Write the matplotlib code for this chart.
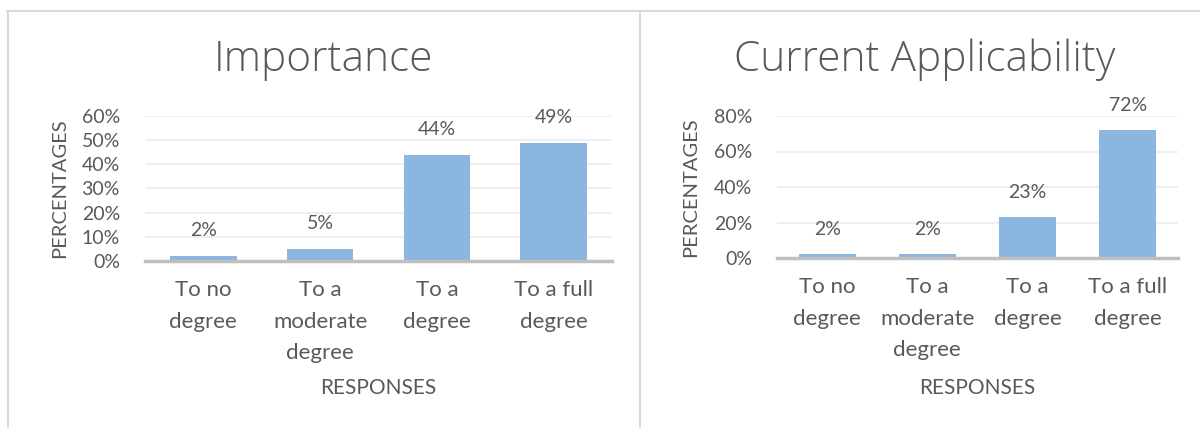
import matplotlib
matplotlib.use("Agg")
import matplotlib.pyplot as plt
from matplotlib.lines import Line2D
from matplotlib.ticker import PercentFormatter

plt.rcParams['font.family'] = ['Lato', 'DejaVu Sans']

categories = ["To no\ndegree", "To a\nmoderate\ndegree", "To a\ndegree", "To a full\ndegree"]
importance = [2, 5, 44, 49]
applicability = [2, 2, 23, 72]
importance_labels = ["2%", "5%", "44%", "49%"]
applicability_labels = ["2%", "2%", "23%", "72%"]
titles = ["Importance", "Current Applicability"]

W, H = 1200, 428
fig = plt.figure(figsize=(12, 4.28), dpi=100)

TXT = "#595959"
BAR = "#8BB6E0"
GRID = "#EFEFEF"
BASE = "#BFBFBF"
BORDER = "#D9D9D9"

def px(x0, y0, x1, y1):
    return [x0 / W, 1 - y1 / H, (x1 - x0) / W, (y1 - y0) / H]

panels = [
    dict(rect=px(145, 116, 612, 261), vals=importance, labs=importance_labels,
         ymax=60, step=10, title=titles[0], tx=323, ylab_x=-0.165, xlab_y=-0.81),
    dict(rect=px(777, 116, 1178, 258), vals=applicability, labs=applicability_labels,
         ymax=80, step=20, title=titles[1], tx=925, ylab_x=-0.195, xlab_y=-0.845),
]

for p in panels:
    ax = fig.add_axes(p["rect"])
    x = range(len(categories))
    ax.bar(x, p["vals"], width=0.57, color=BAR, zorder=2)
    ax.set_xlim(-0.5, len(categories) - 0.5)
    ax.set_ylim(0, p["ymax"])
    ax.set_yticks(range(0, p["ymax"] + 1, p["step"]))
    ax.yaxis.set_major_formatter(PercentFormatter(decimals=0))
    ax.set_xticks(list(x))
    ax.set_xticklabels(categories, linespacing=1.7, fontsize=16)
    ax.tick_params(axis='both', length=0, labelcolor=TXT)
    ax.tick_params(axis='y', pad=18, labelsize=14)
    ax.tick_params(axis='x', pad=14)
    ax.grid(axis='y', color=GRID, linewidth=1.5, zorder=0)
    ax.set_axisbelow(True)
    for s in ['top', 'right', 'left']:
        ax.spines[s].set_visible(False)
    ax.spines['bottom'].set_color(BASE)
    ax.spines['bottom'].set_linewidth(2.5)
    ax.spines['bottom'].set_zorder(3)
    for xi, v, lab in zip(x, p["vals"], p["labs"]):
        ax.annotate(lab, (xi, v), xytext=(0, 12), textcoords='offset points',
                    ha='center', va='bottom', fontsize=14, color=TXT)
    ax.set_ylabel("PERCENTAGES", fontsize=14.5, color=TXT)
    ax.yaxis.set_label_coords(p["ylab_x"], 0.5)
    ax.set_xlabel("RESPONSES", fontsize=15, color=TXT)
    ax.xaxis.set_label_coords(0.5, p["xlab_y"])
    fig.text(p["tx"] / W, 1 - 71 / H, p["title"], ha='center', va='baseline',
             fontsize=30.5, color=TXT, family=['Open Sans', 'DejaVu Sans'],
             fontweight=300)

# chart-area borders
fig.add_artist(Line2D([7 / W, 1], [1 - 10.5 / H] * 2, color=BORDER, linewidth=1.5,
                      transform=fig.transFigure))
for xb in (7.5, 639.5):
    fig.add_artist(Line2D([xb / W] * 2, [0, 1 - 10.5 / H], color=BORDER, linewidth=1.5,
                          transform=fig.transFigure))

fig.savefig("out.png", dpi=100, facecolor="white")
